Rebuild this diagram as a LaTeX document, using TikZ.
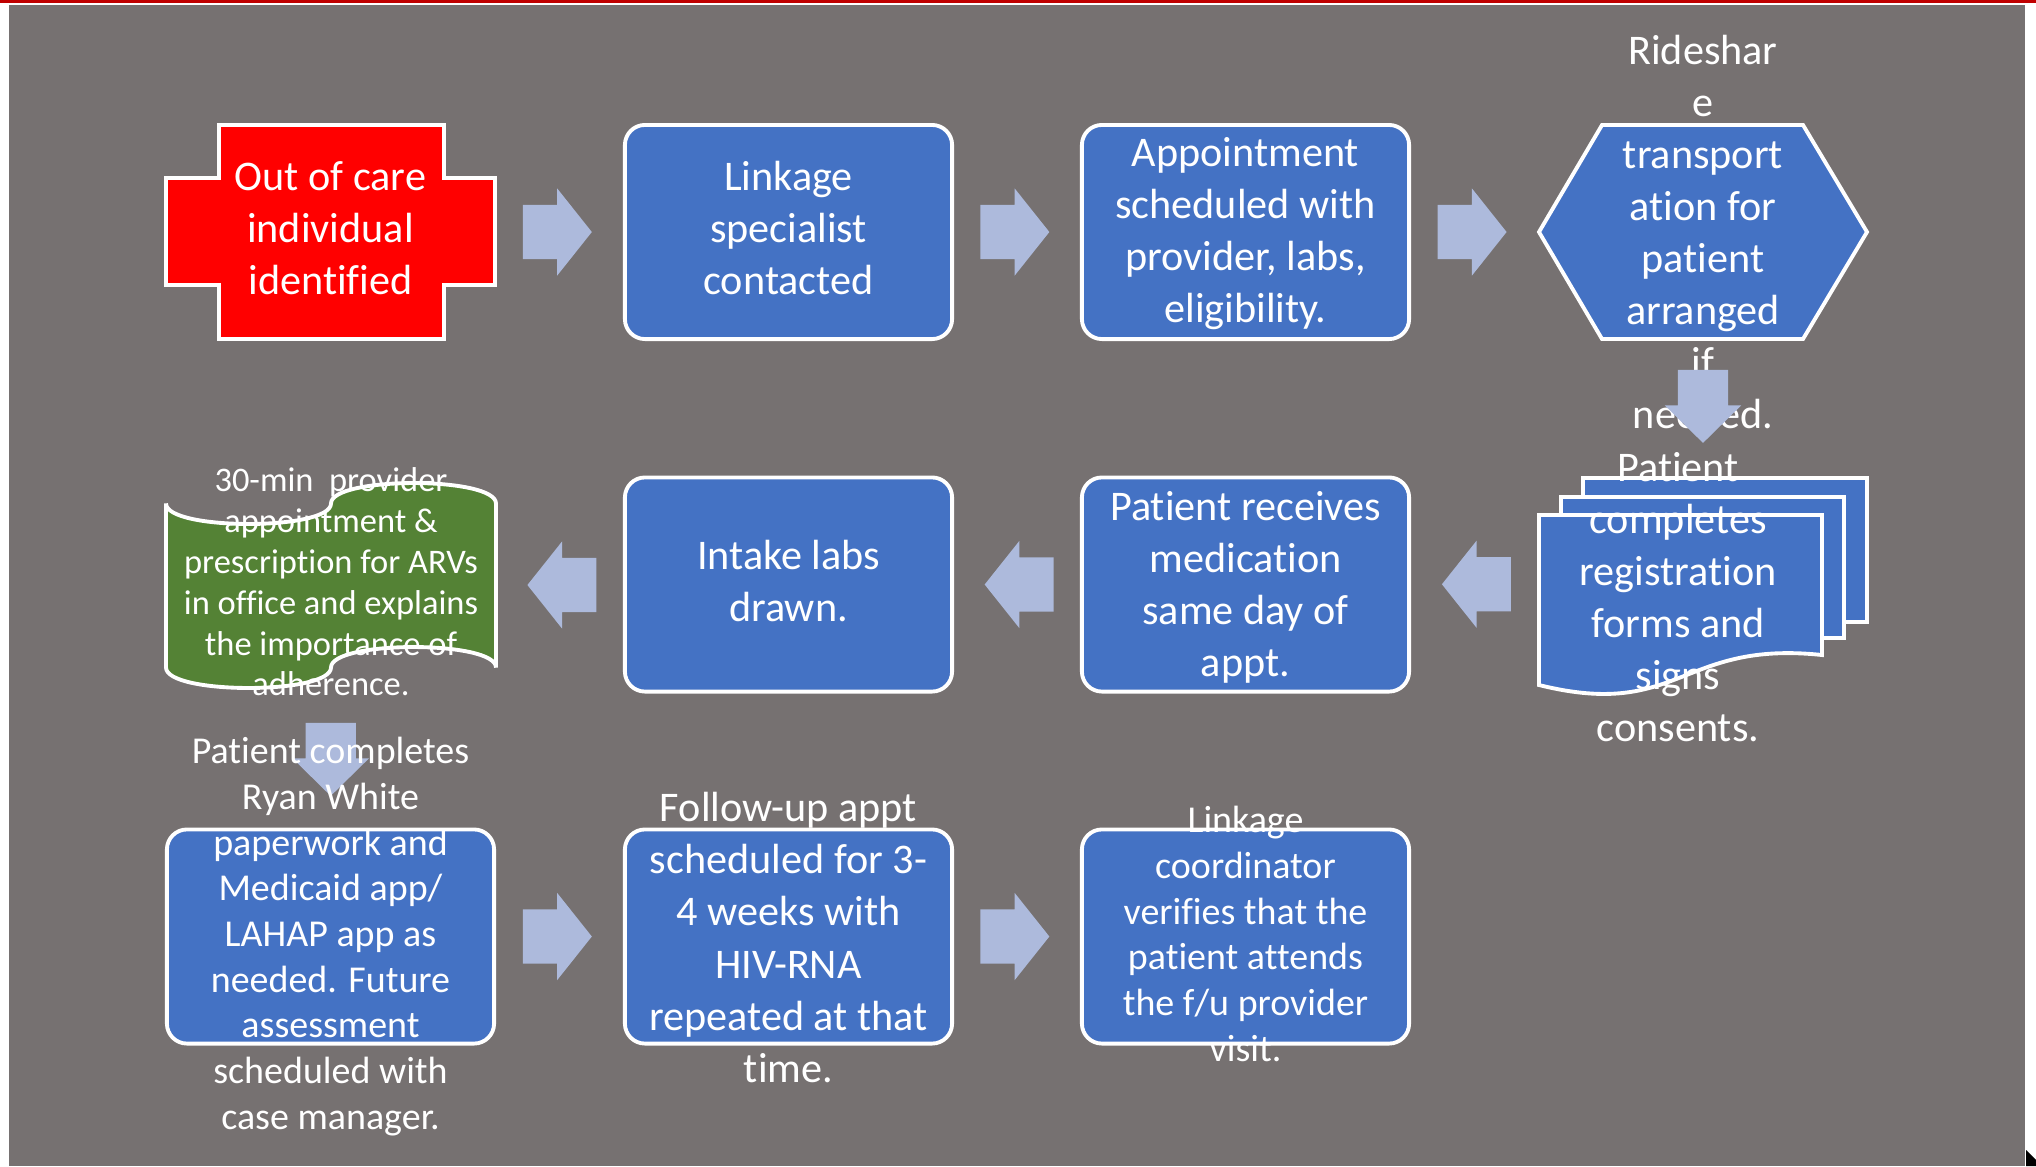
\documentclass[tikz,border=0pt]{standalone}
\usepackage{fontspec}
\setmainfont{Carlito}[Ligatures=NoCommon]
\usetikzlibrary{shapes.arrows,calc}

\definecolor{slidegray}{HTML}{767171}
\definecolor{stepblue}{HTML}{4472C4}
\definecolor{stepred}{HTML}{FF0000}
\definecolor{stepgreen}{HTML}{548235}
\definecolor{flowarrow}{HTML}{ADBADC}
\definecolor{topline}{HTML}{C00000}

\tikzset{
  frame/.style={inner sep=0pt,minimum width=3.27cm,minimum height=2.14cm},
  stepbox/.style={frame,rectangle,rounded corners=0.2cm,fill=stepblue,draw=white,line width=1.1pt},
  outline/.style={draw=white,line width=1.1pt},
  steptext/.style={text=white,align=center,inner sep=0pt,font=\fontsize{12}{14.8}\selectfont},
  midtext/.style={steptext,font=\fontsize{10.8}{13}\selectfont},
  smalltext/.style={steptext,font=\fontsize{9.8}{11.6}\selectfont},
  blockarrow/.style={single arrow,fill=flowarrow,inner sep=0pt,text height=0.53cm,text depth=0cm,minimum height=0.69cm,single arrow head extend=0.165cm,single arrow tip angle=103},
  flowright/.style={blockarrow,xshift=-0.13cm},
  flowleft/.style={blockarrow,shape border rotate=180,xshift=0.13cm},
  flowdown/.style={single arrow,fill=flowarrow,inner sep=0pt,text width=0.49cm,text height=0cm,text depth=0cm,minimum height=0.73cm,single arrow head extend=0.13cm,single arrow tip angle=91,shape border rotate=270,yshift=0.14cm}
}

\begin{document}
\begin{tikzpicture}[x=0.01cm,y=-0.01cm]
\useasboundingbox (0,0) rectangle (2036,1166);
\fill[white] (0,0) rectangle (2036,1166);
\fill[topline] (0,0) rectangle (2036,3);
\fill[slidegray] (9,5) rectangle (2025,1166);
\fill[black] (2026,1150) -- (2036,1160) -- (2036,1166) -- (2026,1166) -- cycle;

% first row
\node[frame] (cross) at (330.5,232) {};
\draw[outline,fill=stepred] (166,178) -- (219,178) -- (219,125) -- (444,125) -- (444,178) -- (495,178) -- (495,285) -- (444,285) -- (444,339) -- (219,339) -- (219,285) -- (166,285) -- cycle;
\node[steptext] (cross-t) at (330.5,228) {Out of care\\individual\\identified};
\node[stepbox] (link) at (788.5,232) {};
\node[steptext] (link-t) at (788.5,228) {Linkage\\specialist\\contacted};
\node[stepbox] (appt) at (1245.5,232) {};
\node[steptext] (appt-t) at (1245.5,234) {Appointment\\scheduled with\\provider, labs,\\eligibility.};
\node[frame,minimum width=3.28cm] (ride) at (1703,232) {};
\draw[outline,fill=stepblue] (1539,232) -- (1602,125) -- (1803,125) -- (1867,232) -- (1803,339) -- (1602,339) -- cycle;
\node[steptext] (ride-t) at (1703,232) {Rideshar\\e\\transport\\ation for\\patient\\arranged\\if\\needed.};
\foreach \a/\b in {cross/link,link/appt,appt/ride}
  \node[flowright] (\a-\b) at ($(\a)!0.5!(\b)$) {};

% second row
\node[frame,minimum width=3.28cm,minimum height=2.12cm] (forms) at (1703,584) {};
\node[flowdown] (ride-forms) at ($(ride)!0.5!(forms)$) {};
\draw[outline,fill=stepblue] (1583,478) rectangle (1867,622);
\draw[outline,fill=stepblue] (1561,497) rectangle (1844,638);
\draw[outline,fill=stepblue] (1539,515) -- (1822,515) -- (1822,655) .. controls (1680,640) and (1680,720) .. (1539,685) -- cycle;
\node[steptext] (forms-t) at (1678,597) {Patient\\completes\\registration\\forms and\\signs\\consents.};
\node[stepbox] (meds) at (1245.5,584.5) {};
\node[steptext] (meds-t) at (1245.5,587) {Patient receives\\medication\\same day of\\appt.};
\node[stepbox] (intake) at (788.5,584.5) {};
\node[steptext] (intake-t) at (788.5,581) {Intake labs\\drawn.};
\node[frame,minimum width=3.30cm,minimum height=2.05cm] (tape) at (331,585.5) {};
\draw[outline,fill=stepgreen] (166,503.5) .. controls (166,530.8) and (331,530.8) .. (331,503.5)
  .. controls (331,476.2) and (496,476.2) .. (496,503.5) -- (496,667.5)
  .. controls (496,640.2) and (331,640.2) .. (331,667.5)
  .. controls (331,694.8) and (166,694.8) .. (166,667.5) -- cycle;
\node[smalltext] (tape-t) at (331,582) {30-min\ \ provider\\appointment \&\\prescription for ARVs\\in office and explains\\the importance of\\adherence.};
\foreach \a/\b in {forms/meds,meds/intake,intake/tape}
  \node[flowleft] (\a-\b) at ($(\a)!0.5!(\b)$) {};

% third row
\node[stepbox] (apps) at (330.5,936.5) {};
\node[flowdown] (tape-apps) at ($(tape)!0.5!(apps)$) {};
\node[midtext] (apps-t) at (apps) {Patient completes\\Ryan White\\paperwork and\\Medicaid app/\\LAHAP app as\\needed. Future\\assessment\\scheduled with\\case manager.};
\node[stepbox] (followup) at (788.5,936.5) {};
\node[steptext] (followup-t) at (788.5,937.5) {Follow-up appt\\scheduled for 3-\\4 weeks with\\HIV-RNA\\repeated at that\\time.};
\node[stepbox] (verify) at (1245.5,936.5) {};
\node[midtext] (verify-t) at (1245.5,934) {Linkage\\coordinator\\verifies that the\\patient attends\\the f/u provider\\visit.};
\foreach \a/\b in {apps/followup,followup/verify}
  \node[flowright] (\a-\b) at ($(\a)!0.5!(\b)$) {};
\end{tikzpicture}
\end{document}
